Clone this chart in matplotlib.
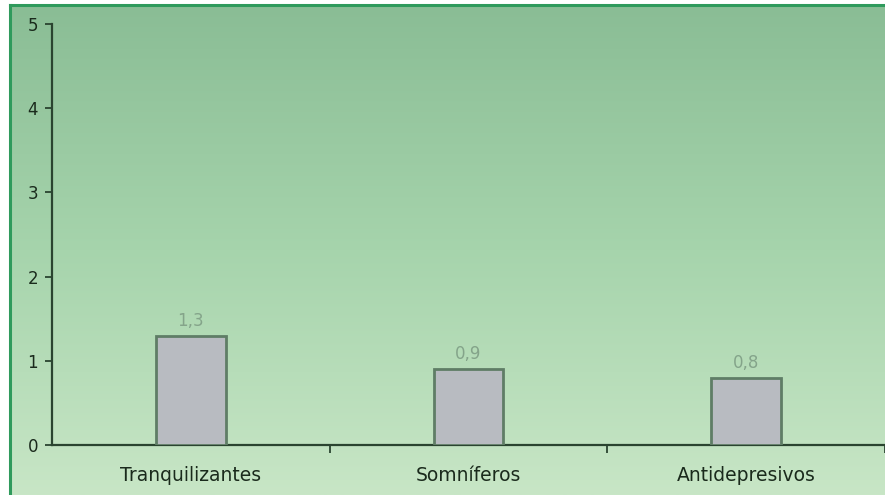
import matplotlib
matplotlib.use("Agg")
import matplotlib.pyplot as plt
import numpy as np
from matplotlib.colors import LinearSegmentedColormap

categories = ["Tranquilizantes", "Somníferos", "Antidepresivos"]
values = [1.3, 0.9, 0.8]
value_labels = ["1,3", "0,9", "0,8"]
y_ticks = [0, 1, 2, 3, 4, 5]

W, H = 885, 495
fig = plt.figure(figsize=(W / 100, H / 100), dpi=100)

# green vertical gradient background inside the frame
bg = fig.add_axes([10 / W, 0, 1 - 10 / W, 490 / H], zorder=0)
cmap = LinearSegmentedColormap.from_list("bg", ["#8abd95", "#a6d4ac", "#c8e6c6"])
grad = np.linspace(0, 1, 256).reshape(-1, 1)
bg.imshow(grad, aspect="auto", cmap=cmap, extent=[0, 1, 0, 1], origin="upper")
bg.set_xlim(0, 1)
bg.set_ylim(0, 1)
bg.axis("off")

# frame lines (top and left)
fig.add_artist(plt.Line2D([10 / W, 1], [490 / H, 490 / H], color="#2f9a5c", lw=2.2, transform=fig.transFigure, zorder=5))
fig.add_artist(plt.Line2D([10 / W, 10 / W], [0, 490 / H], color="#2f9a5c", lw=2.2, transform=fig.transFigure, zorder=5))

ax = fig.add_axes([52 / W, 50 / H, 1 - 52 / W, (445 - 24) / H], zorder=2)
ax.patch.set_alpha(0)

x = np.arange(len(categories))
ax.bar(x, values, width=0.25, color="#b8bbc1", edgecolor="#5f7d66", linewidth=2, zorder=3)

for xi, v, lab in zip(x, values, value_labels):
    ax.text(xi, v + 0.07, lab, ha="center", va="bottom", fontsize=12, color="#84a48a", family="DejaVu Sans")

ax.set_xlim(-0.5, 2.5)
ax.set_ylim(0, 5)
ax.set_yticks(y_ticks)
ax.set_yticklabels([str(t) for t in y_ticks], fontsize=12, color="#1a2a1c")

# category labels centred, ticks on category boundaries
ax.set_xticks([0.5, 1.5, 2.5])
ax.set_xticklabels([])
ax.set_xticks(x, minor=True)
ax.set_xticklabels(categories, minor=True, fontsize=13.5, color="#1a2a1c")
ax.tick_params(axis="x", which="minor", length=0, pad=15)
ax.tick_params(axis="x", which="major", length=6, width=1.3, color="#2a4430", direction="out")
ax.tick_params(axis="y", length=5, width=1.3, color="#2a4430", direction="out", pad=5)

for s in ["top", "right"]:
    ax.spines[s].set_visible(False)
for s in ["left", "bottom"]:
    ax.spines[s].set_color("#2a4430")
    ax.spines[s].set_linewidth(1.6)

fig.savefig("out.png", dpi=100, facecolor="white")
